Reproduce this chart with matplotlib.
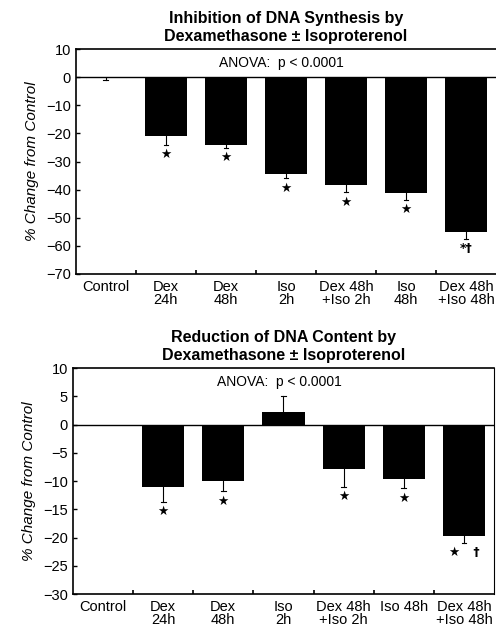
import numpy as np
import matplotlib.pyplot as plt

plt.rcParams['font.family'] = ['Liberation Sans', 'DejaVu Sans']

# inhibition of DNA synthesis (top)
labels_top = ["Control", "Dex\n24h", "Dex\n48h", "Iso\n2h", "Dex 48h\n+Iso 2h",
              "Iso\n48h", "Dex 48h\n+Iso 48h"]
synth = [-0.3, -21, -24, -34.5, -38.5, -41.3, -55]
synth_err = [0.7, 3, 1.2, 1.5, 2.5, 2.2, 2.5]
synth_mark = ["", "★", "★", "★", "★", "★", "*†"]

# reduction of DNA content (bottom)
labels_bot = ["Control", "Dex\n24h", "Dex\n48h", "Iso\n2h", "Dex 48h\n+Iso 2h",
              "Iso 48h", "Dex 48h\n+Iso 48h"]
content = [0, -11, -10, 2.2, -7.8, -9.7, -19.7]
content_err = [0, 2.7, 1.8, 2.8, 3.2, 1.6, 1.3]
content_mark = ["", "★", "★", "", "★", "★", "★   †"]


def panel(ax, vals, errs, marks, labels, ylim, yticks, title):
    x = np.arange(len(vals))
    ax.bar(x, vals, width=0.7, color="black", zorder=2)
    for xi, v, e, m in zip(x, vals, errs, marks):
        if e > 0:
            end = v - e if v < 0 else v + e
            ax.plot([xi, xi], [v, end], color="black", lw=0.8, zorder=1)
            ax.plot([xi - 0.04, xi + 0.04], [end, end], color="black", lw=0.8)
        if m:
            end = v - e
            ax.annotate(m, (xi, end), xytext=(0, -7), textcoords="offset points",
                        ha="center", va="center", fontsize=9,
                        family=["DejaVu Sans"], fontweight="bold")
    ax.axhline(0, color="black", lw=1.0, zorder=3)
    ax.set_xlim(-0.5, len(vals) - 0.5)
    ax.set_ylim(*ylim)
    ax.set_yticks(yticks)
    ax.set_xticks(x)
    ax.set_xticklabels(labels, fontsize=10.5, linespacing=0.95)
    ax.set_xticks(np.arange(0.5, len(vals) - 0.5), minor=True)
    ax.tick_params(axis="x", which="major", length=0, pad=4)
    ax.tick_params(axis="x", which="minor", length=3, direction="in", width=1.2)
    ax.tick_params(axis="y", length=3, direction="in", labelsize=10.5, width=1.0)
    for s in ["left", "bottom", "top"]:
        ax.spines[s].set_linewidth(1.2)
    ax.spines["right"].set_visible(False)
    ax.set_ylabel("% Change from Control", fontsize=11, style="italic", labelpad=5)
    ax.set_title(title, fontsize=11.5, fontweight="bold", linespacing=1.2, pad=6)
    ax.text(0.49, 0.94, "ANOVA:  p < 0.0001", transform=ax.transAxes,
            ha="center", va="center", fontsize=10)


fig = plt.figure(figsize=(4.96, 6.28), dpi=100)
ax1 = fig.add_axes([0.153, 0.5637, 0.847, 0.358])
ax2 = fig.add_axes([0.147, 0.054, 0.849, 0.360])

panel(ax1, synth, synth_err, synth_mark, labels_top, (-70, 10), np.arange(-70, 11, 10),
      "Inhibition of DNA Synthesis by\nDexamethasone ± Isoproterenol")
panel(ax2, content, content_err, content_mark, labels_bot, (-30, 10), np.arange(-30, 11, 5),
      "Reduction of DNA Content by\nDexamethasone ± Isoproterenol")
ax2.spines["right"].set_visible(True)

fig.savefig("out.png", dpi=100)
